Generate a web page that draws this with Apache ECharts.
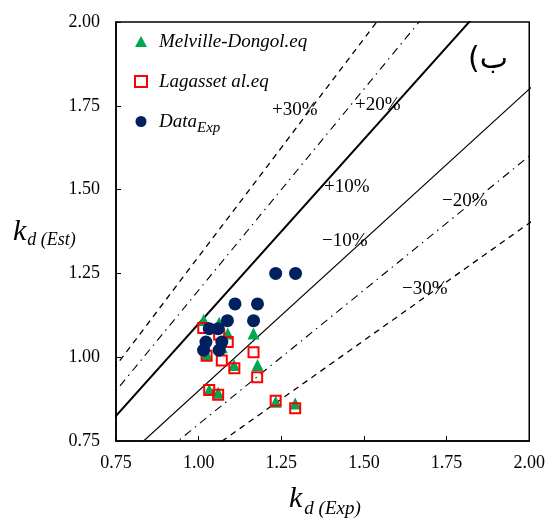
<!DOCTYPE html>
<html>
<head>
<meta charset="utf-8">
<script src="https://cdn.jsdelivr.net/npm/echarts@6/dist/echarts.min.js"></script>
<style>html,body{margin:0;padding:0;background:#fff;}#c{width:548px;height:528px;}</style>
</head>
<body>
<div id="c"></div>
<script>
const axisTicks = [0.75, 1.00, 1.25, 1.50, 1.75, 2.00];
const melvilleX = [1.015, 1.062, 1.088, 1.166, 1.025, 1.070, 1.107, 1.178, 1.032, 1.059, 1.233, 1.292];
const melvilleY = [1.111, 1.103, 1.071, 1.071, 1.007, 1.030, 0.977, 0.977, 0.902, 0.894, 0.867, 0.862];
const lagassX = [1.014, 1.062, 1.088, 1.166, 1.024, 1.070, 1.108, 1.177, 1.032, 1.059, 1.233, 1.292];
const lagassY = [1.087, 1.068, 1.045, 1.015, 1.004, 0.990, 0.967, 0.940, 0.902, 0.888, 0.870, 0.848];
const expX = [1.015, 1.062, 1.022, 1.070, 1.032, 1.059, 1.087, 1.166, 1.110, 1.178, 1.233, 1.293];
const expY = [1.021, 1.021, 1.045, 1.045, 1.085, 1.085, 1.109, 1.109, 1.159, 1.159, 1.250, 1.250];
const bandRatios = [1.3, 1.2, 1.1, 0.9, 0.8, 0.7];
const bandLabels = ['+30%', '+20%', '+10%', '\u221210%', '\u221220%', '\u221230%'];

const serif = '"Liberation Serif", "DejaVu Serif", serif';
const pair = (xs, ys) => xs.map((x, i) => [x, ys[i]]);
const lineStyles = [
  {type: [6, 5], width: 1.3},
  {type: [8, 5, 1.5, 5], width: 1.1},
  {type: 'solid', width: 2},
  {type: 'solid', width: 1.2},
  {type: [8, 5, 1.5, 5], width: 1.1},
  {type: [6, 5], width: 1.3}
];
const lineSeries = bandRatios.map((r, i) => ({
  type: 'line', name: bandLabels[i], silent: true, symbol: 'none', clip: true,
  data: [[0.5, 0.5 * r], [2.5, 2.5 * r]],
  lineStyle: Object.assign({color: '#000'}, lineStyles[i]),
  z: 1
}));
const labelPos = [[272, 101], [355, 96], [324, 178], [322, 232], [442, 192], [402, 280]];

const chart = echarts.init(document.getElementById('c'), null, {renderer: 'canvas'});
chart.setOption({
  animation: false,
  backgroundColor: '#fff',
  grid: {left: 116, right: 15, top: 22, bottom: 87, show: true, borderColor: '#000', borderWidth: 1.5},
  xAxis: {
    type: 'value', min: 0.75, max: 2.00, interval: 0.25,
    axisLine: {show: true, lineStyle: {color: '#000', width: 1.5}},
    axisTick: {show: true, inside: true, length: 5, lineStyle: {color: '#000'}},
    splitLine: {show: false},
    axisLabel: {color: '#000', fontFamily: serif, fontSize: 18, margin: 13, formatter: v => v.toFixed(2)}
  },
  yAxis: {
    type: 'value', min: 0.75, max: 2.00, interval: 0.25,
    axisLine: {show: true, lineStyle: {color: '#000', width: 1.5}},
    axisTick: {show: true, inside: true, length: 5, lineStyle: {color: '#000'}},
    splitLine: {show: false},
    axisLabel: {color: '#000', fontFamily: serif, fontSize: 18, margin: 16, formatter: v => v.toFixed(2)}
  },
  legend: {
    orient: 'vertical', left: 134, top: 32, padding: 0, itemGap: 21, itemWidth: 12, itemHeight: 11,
    data: ['Melville-Dongol.eq', 'Lagasset al.eq', 'Data_Exp'],
    formatter: n => n === 'Data_Exp' ? '{a|Data}{b|Exp}' : '{c|' + n + '}',
    textStyle: {
      color: '#000', fontFamily: serif, fontStyle: 'italic', fontSize: 19,
      rich: {
        a: {fontFamily: serif, fontStyle: 'italic', fontSize: 19, color: '#000', padding: [0, 0, 0, 7]},
        b: {fontFamily: serif, fontStyle: 'italic', fontSize: 15, color: '#000', padding: [14, 0, 0, 0]},
        c: {fontFamily: serif, fontStyle: 'italic', fontSize: 19, color: '#000', padding: [0, 0, 0, 7]}
      }
    }
  },
  series: lineSeries.concat([
    {type: 'scatter', name: 'Melville-Dongol.eq', symbol: 'triangle', symbolSize: 12,
     itemStyle: {color: '#00a651', opacity: 1}, data: pair(melvilleX, melvilleY), z: 3},
    {type: 'scatter', name: 'Lagasset al.eq', symbol: 'rect', symbolSize: 10,
     itemStyle: {color: 'rgba(255,255,255,0)', borderColor: '#ff0000', borderWidth: 2, opacity: 1}, data: pair(lagassX, lagassY), z: 4},
    {type: 'scatter', name: 'Data_Exp', symbol: 'circle', symbolSize: 13,
     itemStyle: {color: '#002060', opacity: 1}, data: pair(expX, expY), z: 5}
  ]),
  graphic: bandLabels.map((t, i) => ({
    type: 'text', left: labelPos[i][0], top: labelPos[i][1], z: 10,
    style: {text: t, font: '19px ' + serif, fill: '#000'}
  })).concat([
    {type: 'text', left: 468, top: 45, z: 10, style: {text: '(\u0628', font: '30px "DejaVu Sans", "Noto Sans", sans-serif', fill: '#000'}},
    {type: 'text', left: 13, top: 217, z: 10, style: {
      text: '{k|k}{s|d (Est)}',
      rich: {
        k: {font: 'italic 30px ' + serif, fill: '#000'},
        s: {font: 'italic 18px ' + serif, fill: '#000', padding: [16, 0, 0, 1]}
      }
    }},
    {type: 'text', left: 289, top: 484, z: 10, style: {
      text: '{k|k}{s|d (Exp)}',
      rich: {
        k: {font: 'italic 30px ' + serif, fill: '#000'},
        s: {font: 'italic 19px ' + serif, fill: '#000', padding: [20, 0, 0, 2]}
      }
    }}
  ])
});
</script>
</body>
</html>
